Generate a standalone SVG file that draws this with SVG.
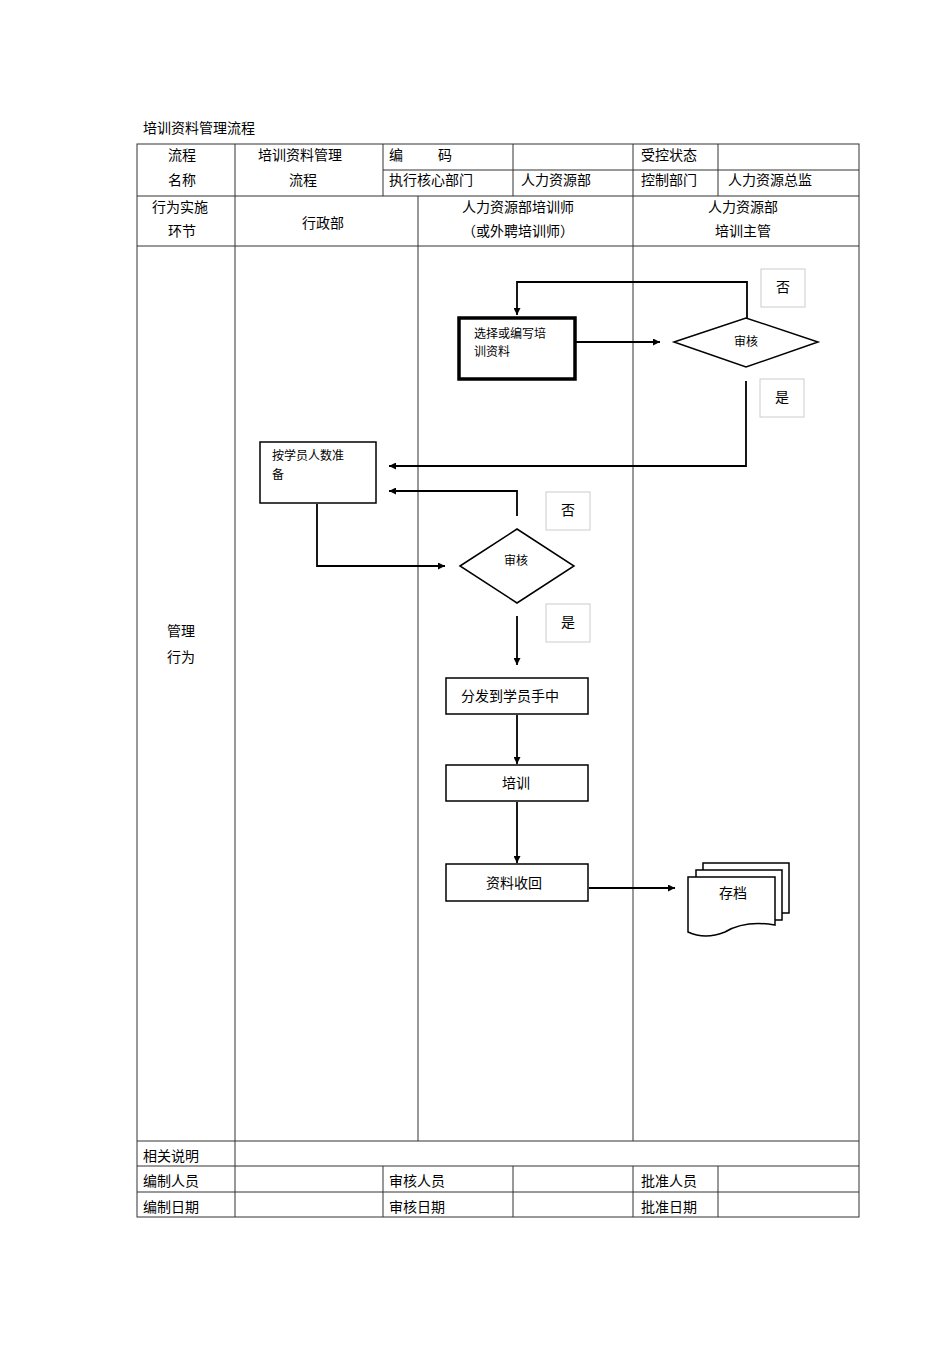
<svg xmlns="http://www.w3.org/2000/svg" width="950" height="1345" viewBox="0 0 950 1345">
<defs>
<style>
text{font-family:"Liberation Serif","Noto Sans CJK SC",serif;font-size:14px;fill:#000}
.s{font-size:12px}
.m{text-anchor:middle}
.g{fill:none;stroke:#333;stroke-width:1}
.c{fill:none;stroke:#000;stroke-width:1.8}
.n{fill:#fff;stroke:#000;stroke-width:1.5}
.lb{fill:#fff;stroke:#ccc;stroke-width:1}
</style>
<marker id="a" viewBox="0 0 10 10" refX="10" refY="5" markerWidth="7" markerHeight="7" orient="auto" markerUnits="userSpaceOnUse"><path d="M0,0L10,5L0,10z" fill="#000"/></marker>
</defs>
<rect width="950" height="1345" fill="#fff"/>
<text x="143" y="133">培训资料管理流程</text>
<g id="table">
<rect class="g" x="137" y="144" width="722" height="1073"/>
<path class="g" d="M383,170H859M137,196H859M137,246H859M137,1141H859M137,1166H859M137,1192H859M235,144V1217M383,144V196M513,144V196M633,144V196M718,144V196M418,196V1141M633,196V1141M383,1166V1217M513,1166V1217M633,1166V1217M718,1166V1217"/>
<text class="m" x="182" y="160">流程</text><text class="m" x="182" y="185">名称</text>
<text class="m" x="300" y="160">培训资料管理</text><text class="m" x="303" y="185">流程</text>
<text x="389" y="160">编</text><text x="438" y="160">码</text>
<text x="641" y="160">受控状态</text>
<text x="389" y="185">执行核心部门</text><text x="521" y="185">人力资源部</text>
<text x="641" y="185">控制部门</text><text x="728" y="185">人力资源总监</text>
<text class="m" x="180" y="212">行为实施</text><text class="m" x="182" y="236">环节</text>
<text class="m" x="323" y="228">行政部</text>
<text class="m" x="518" y="212">人力资源部培训师</text><text class="m" x="518" y="236">（或外聘培训师）</text>
<text class="m" x="743" y="212">人力资源部</text><text class="m" x="743" y="236">培训主管</text>
<text x="167" y="636">管理</text><text x="167" y="662">行为</text>
<text x="143" y="1161">相关说明</text>
<text x="143" y="1186">编制人员</text><text x="389" y="1186">审核人员</text><text x="641" y="1186">批准人员</text>
<text x="143" y="1212">编制日期</text><text x="389" y="1212">审核日期</text><text x="641" y="1212">批准日期</text>
</g>
<g id="connectors">
<path class="c" d="M747,318V282H517V315" marker-end="url(#a)"/>
<path class="c" d="M576,342H660" marker-end="url(#a)"/>
<path class="c" d="M746,381V466H389" marker-end="url(#a)"/>
<path class="c" d="M517,516V491H389" marker-end="url(#a)"/>
<path class="c" d="M317,504V566H445" marker-end="url(#a)"/>
<path class="c" d="M517,616V665" marker-end="url(#a)"/>
<path class="c" d="M517,715V764" marker-end="url(#a)"/>
<path class="c" d="M517,802V863" marker-end="url(#a)"/>
<path class="c" d="M589,888H675" marker-end="url(#a)"/>
</g>
<g id="lbl-no1"><rect class="lb" x="761" y="269" width="44" height="38"/><text class="m" x="783" y="292">否</text></g>
<g id="lbl-yes1"><rect class="lb" x="760" y="379" width="44" height="38"/><text class="m" x="782" y="402">是</text></g>
<g id="lbl-no2"><rect class="lb" x="546" y="492" width="44" height="38"/><text class="m" x="568" y="515">否</text></g>
<g id="lbl-yes2"><rect class="lb" x="546" y="604" width="44" height="38"/><text class="m" x="568" y="627">是</text></g>
<g id="n1"><rect x="459" y="318" width="116" height="61" fill="#fff" stroke="#000" stroke-width="3.5"/><text class="s" x="474" y="338">选择或编写培</text><text class="s" x="474" y="356">训资料</text></g>
<g id="d1"><polygon class="n" points="674,342 746,318 818,342 746,367"/><text class="s m" x="746" y="346">审核</text></g>
<g id="n2"><rect class="n" x="260" y="442" width="116" height="61"/><text class="s" x="272" y="460">按学员人数准</text><text class="s" x="272" y="479">备</text></g>
<g id="d2"><polygon class="n" points="460,566 517,529 574,566 517,603"/><text class="s m" x="516" y="565">审核</text></g>
<g id="n3"><rect class="n" x="446" y="678" width="142" height="36"/><text class="m" x="510" y="701">分发到学员手中</text></g>
<g id="n4"><rect class="n" x="446" y="765" width="142" height="36"/><text class="m" x="516" y="788">培训</text></g>
<g id="n5"><rect class="n" x="446" y="864" width="142" height="37"/><text class="m" x="514" y="888">资料收回</text></g>
<g id="n6">
<path class="n" d="M703,863H789V913H703Z" stroke-width="1.2"/>
<path class="n" d="M696,870H782V920H696Z" stroke-width="1.2"/>
<path class="n" d="M688,877H775V925Q745,920 725,932Q705,940 688,932Z" stroke-width="1.2"/>
<text class="m" x="733" y="898">存档</text>
</g>
</svg>
